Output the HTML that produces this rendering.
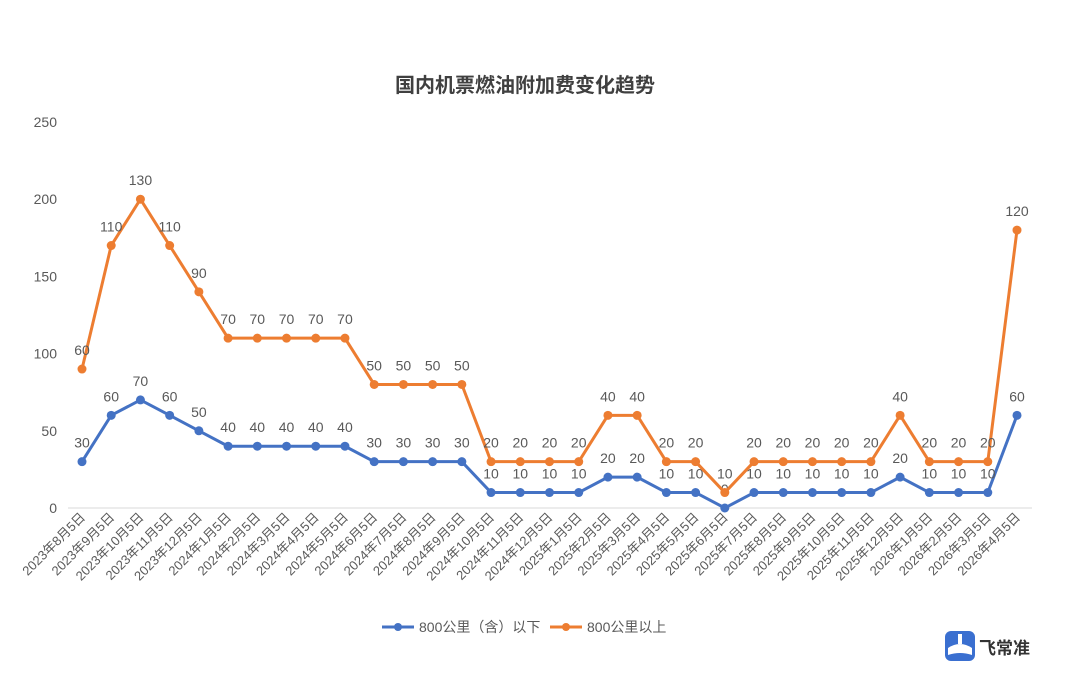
<!DOCTYPE html>
<html><head><meta charset="utf-8"><style>
body{margin:0;background:#fff;}
svg{display:block;font-family:"Liberation Sans","Noto Sans CJK SC",sans-serif;}
</style></head><body>
<svg id="c" width="1080" height="687" viewBox="0 0 1080 687">
<text x="525" y="92" text-anchor="middle" font-size="20" font-weight="bold" fill="#404040">国内机票燃油附加费变化趋势</text>
<g id="yax"></g><g id="xax"></g><g id="lines"></g>
<g>
<g><line x1="382" y1="627" x2="414" y2="627" stroke="#4472C4" stroke-width="3"/><circle cx="398" cy="627" r="4" fill="#4472C4"/><text x="419" y="632" font-size="14" fill="#595959">800公里（含）以下</text></g>
<g><line x1="550" y1="627" x2="582" y2="627" stroke="#ED7D31" stroke-width="3"/><circle cx="566" cy="627" r="4" fill="#ED7D31"/><text x="587" y="632" font-size="14" fill="#595959">800公里以上</text></g>
</g>
<g>
<rect x="945" y="631" width="30" height="30" rx="6" fill="#3A6FD0"/>
<path d="M948 648 Q960 640 972 648 L972 655 Q960 651 948 655 Z" fill="#fff"/>
<rect x="958" y="634" width="4" height="10" fill="#fff"/>
<text x="979" y="654" font-size="17" font-weight="bold" fill="#333">飞常准</text>
</g>
</svg>
<script>
const categories=["2023年8月5日","2023年9月5日","2023年10月5日","2023年11月5日","2023年12月5日","2024年1月5日","2024年2月5日","2024年3月5日","2024年4月5日","2024年5月5日","2024年6月5日","2024年7月5日","2024年8月5日","2024年9月5日","2024年10月5日","2024年11月5日","2024年12月5日","2025年1月5日","2025年2月5日","2025年3月5日","2025年4月5日","2025年5月5日","2025年6月5日","2025年7月5日","2025年8月5日","2025年9月5日","2025年10月5日","2025年11月5日","2025年12月5日","2026年1月5日","2026年2月5日","2026年3月5日","2026年4月5日"];
const shortHaul=[30,60,70,60,50,40,40,40,40,40,30,30,30,30,10,10,10,10,20,20,10,10,0,10,10,10,10,10,20,10,10,10,60];
const longHaul=[60,110,130,110,90,70,70,70,70,70,50,50,50,50,20,20,20,20,40,40,20,20,10,20,20,20,20,20,40,20,20,20,120];
const yTicks=[0,50,100,150,200,250];
const NS="http://www.w3.org/2000/svg";
const x0=82,x1=1017,yb=508,yt=122,ymax=250;
const X=i=>x0+(x1-x0)*i/(categories.length-1);
const Y=v=>yb-(yb-yt)*v/ymax;
function mk(p,t,a){const e=document.createElementNS(NS,t);for(const k in a)e.setAttribute(k,a[k]);p.appendChild(e);return e;}
const yax=document.getElementById('yax'),xax=document.getElementById('xax'),lines=document.getElementById('lines');
yTicks.forEach(v=>{const t=mk(yax,'text',{x:57,y:Y(v)+5,'text-anchor':'end','font-size':14,fill:'#595959'});t.textContent=v;

});
const ax=mk(xax,'line',{x1:68,y1:yb,x2:1032,y2:yb,stroke:'#D9D9D9','stroke-width':1});


categories.forEach((c,i)=>{const x=X(i)+4,y=518;const t=mk(xax,'text',{x:x,y:y,'text-anchor':'end','font-size':13,fill:'#595959',transform:`rotate(-45 ${x} ${y})`});t.textContent=c;

});
function series(vals,base,color,name){
 const g=mk(lines,'g',{});
 
 
 const tot=vals.map((v,i)=>v+(base?base[i]:0));
 mk(g,'polyline',{points:tot.map((v,i)=>X(i)+','+Y(v)).join(' '),fill:'none',stroke:color,'stroke-width':3,'stroke-linejoin':'round'});
 tot.forEach((v,i)=>{const c=mk(g,'circle',{cx:X(i),cy:Y(v),r:4.5,fill:color});
 
 
 const t=mk(g,'text',{x:X(i),y:Y(v)-14,'text-anchor':'middle','font-size':14,fill:'#595959'});t.textContent=vals[i];
 
 });
}
series(shortHaul,null,'#4472C4','series-short-haul');
series(longHaul,shortHaul,'#ED7D31','series-long-haul');
</script>
</body></html>
